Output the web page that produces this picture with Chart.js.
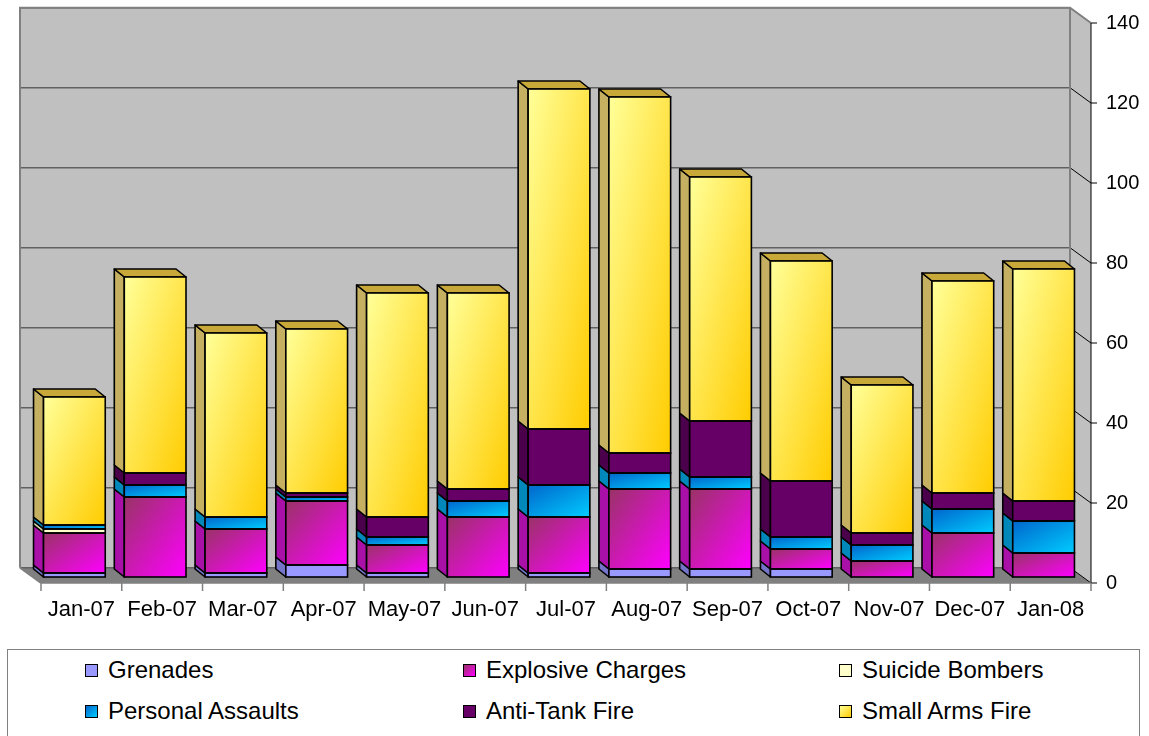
<!DOCTYPE html>
<html>
<head>
<meta charset="utf-8">
<title>Attacks by type</title>
<script src="https://cdn.jsdelivr.net/npm/chart.js@4.4.1/dist/chart.umd.min.js"></script>
<style>
  body { margin: 0; background: #fff; font-family: "Liberation Sans", Arial, sans-serif; }
  #wrap { position: absolute; left: 0; top: 0; width: 1149px; height: 640px; }
  #legend { position: absolute; left: 7px; top: 649px; width: 1133px; height: 92px;
            border: 1px solid #808080; box-sizing: border-box; background: #fff; }
  .swatch { position: absolute; width: 13px; height: 13px; border: 1px solid #000; box-sizing: border-box; }
  .name { position: absolute; font-size: 24px; line-height: 26px; color: #000; white-space: nowrap; }
</style>
</head>
<body>
<div id="wrap"><canvas id="chart"></canvas></div>
<div id="legend"></div>
<script>
// data
const months = ["Jan-07", "Feb-07", "Mar-07", "Apr-07", "May-07", "Jun-07", "Jul-07",
                "Aug-07", "Sep-07", "Oct-07", "Nov-07", "Dec-07", "Jan-08"];
const grenades         = [1, 0, 1, 3, 1, 0, 1, 2, 2, 2, 0, 0, 0];
const explosiveCharges = [10, 20, 11, 16, 7, 15, 14, 20, 20, 5, 4, 11, 6];
const suicideBombers   = [1, 0, 0, 0, 0, 0, 0, 0, 0, 0, 0, 0, 0];
const personalAssaults = [1, 3, 3, 1, 2, 4, 8, 4, 3, 3, 4, 6, 8];
const antiTankFire     = [0, 3, 0, 1, 5, 3, 14, 5, 14, 14, 3, 4, 5];
const smallArmsFire    = [32, 49, 46, 41, 56, 49, 85, 89, 61, 55, 37, 53, 58];
const valueTicks = [0, 20, 40, 60, 80, 100, 120, 140];

// fake 3d offsets (pixels) relative to the bar front plane
const BACK = { dx: -14, dy: -9.3 };
const FRONT = { dx: 7, dy: 6 };
const DEPTH = { dx: -10, dy: -8 };
const BAR_PCT = 0.764;

// front gradient stops, side colour
const looks = [
  { front: ["#9999FF", "#9999FF"], side: "#7474C8" },
  { front: ["#993366", "#FF00FF"], side: "#A810A8" },
  { front: ["#FFFFCC", "#FFFFCC"], side: "#D8D8A8" },
  { front: ["#0066CC", "#00CCFF"], side: "#0088BB" },
  { front: ["#660066", "#660066"], side: "#4A004A" },
  { front: ["#FFFF99", "#FFCC00"], side: "#C4B060", top: "#C8A838" }
];

// diagonal gradient stretched to the box: top-left -> bottom-right
function diagGradient(ctx, x0, y0, w, h, stops) {
  const s = (2 * w * h) / (w * w + h * h || 1);
  const g = ctx.createLinearGradient(x0, y0, x0 + h * s, y0 + w * s);
  g.addColorStop(0, stops[0]);
  g.addColorStop(1, stops[1]);
  return g;
}

function faceFill(di) {
  return function (c) {
    const chart = c.chart;
    const xs = chart.scales.x, ys = chart.scales.y;
    const stops = looks[di].front;
    if (!xs || !ys || c.type !== "data" || !chart.chartArea) return stops[0];
    const i = c.dataIndex;
    let below = 0;
    for (let k = 0; k < di; k++) below += chart.data.datasets[k].data[i];
    const top = ys.getPixelForValue(below + chart.data.datasets[di].data[i]);
    const base = ys.getPixelForValue(below);
    const w = (xs.width / months.length) * BAR_PCT;
    const cx = xs.getPixelForValue(i);
    return diagGradient(chart.ctx, cx - w / 2, top, w, Math.max(base - top, 1), stops);
  };
}

const names = ["Grenades", "Explosive Charges", "Suicide Bombers",
               "Personal Assaults", "Anti-Tank Fire", "Small Arms Fire"];
const values = [grenades, explosiveCharges, suicideBombers, personalAssaults, antiTankFire, smallArmsFire];

const datasets = values.map((v, di) => ({
  label: names[di],
  data: v,
  backgroundColor: faceFill(di),
  borderWidth: 0,
  barPercentage: BAR_PCT,
  categoryPercentage: 1
}));

function barBox(bar) {
  const p = bar.getProps(["x", "y", "base", "width"], true);
  return { x0: p.x - p.width / 2, x1: p.x + p.width / 2, top: p.y, base: p.base };
}

// walls, floor, gridlines, axis lines and the bar side / top faces
const fake3d = {
  id: "fake3d",
  beforeDatasetsDraw(chart) {
    const { ctx, chartArea: a } = chart;
    const ys = chart.scales.y, xs = chart.scales.x;
    const bl = a.left + BACK.dx, br = a.right + BACK.dx;
    const bt = a.top + BACK.dy, bb = a.bottom + BACK.dy;
    const fl = a.left + FRONT.dx, fr = a.right + FRONT.dx;
    const ft = a.top + FRONT.dy, fb = a.bottom + FRONT.dy;
    ctx.save();

    // back wall + right side wall
    ctx.fillStyle = "#C0C0C0";
    ctx.fillRect(bl, bt, br - bl, bb - bt);
    ctx.beginPath();
    ctx.moveTo(br, bt); ctx.lineTo(fr, ft); ctx.lineTo(fr, fb); ctx.lineTo(br, bb);
    ctx.closePath(); ctx.fill();

    // floor
    ctx.fillStyle = "#808080";
    ctx.beginPath();
    ctx.moveTo(bl, bb); ctx.lineTo(br, bb); ctx.lineTo(fr, fb); ctx.lineTo(fl, fb);
    ctx.closePath(); ctx.fill();

    // gridlines on the back wall, then across the side wall to the axis
    valueTicks.forEach(v => {
      const py = ys.getPixelForValue(v);
      ctx.strokeStyle = "#606060";
      ctx.lineWidth = 1.5;
      ctx.beginPath(); ctx.moveTo(bl, py + BACK.dy); ctx.lineTo(br, py + BACK.dy); ctx.stroke();
      ctx.strokeStyle = v === valueTicks[valueTicks.length - 1] ? "#808080" : "#000";
      ctx.lineWidth = 1;
      ctx.beginPath(); ctx.moveTo(br, py + BACK.dy); ctx.lineTo(fr, py + FRONT.dy); ctx.stroke();
      ctx.strokeStyle = "#000";
      ctx.beginPath(); ctx.moveTo(fr, py + FRONT.dy); ctx.lineTo(fr + 6, py + FRONT.dy); ctx.stroke();
    });

    // wall edges
    ctx.strokeStyle = "#808080";
    ctx.lineWidth = 2;
    ctx.beginPath();
    ctx.moveTo(bl, bb); ctx.lineTo(bl, bt); ctx.lineTo(br, bt); ctx.lineTo(fr, ft);
    ctx.moveTo(br, bt); ctx.lineTo(br, bb);
    ctx.moveTo(bl, bb); ctx.lineTo(fl, fb);
    ctx.stroke();

    // value axis line
    ctx.strokeStyle = "#000";
    ctx.lineWidth = 1;
    ctx.beginPath(); ctx.moveTo(fr, ft); ctx.lineTo(fr, fb); ctx.stroke();

    // category ticks along the floor front edge
    const step = xs.width / months.length;
    ctx.strokeStyle = "#808080";
    ctx.lineWidth = 1.5;
    ctx.beginPath();
    for (let k = 0; k <= months.length; k++) {
      const tx = fl + k * step;
      ctx.moveTo(tx, fb); ctx.lineTo(tx, fb + 8);
    }
    ctx.moveTo(fl, fb); ctx.lineTo(fr, fb);
    ctx.stroke();

    // side and top faces of the bars
    ctx.strokeStyle = "#000";
    ctx.lineWidth = 1.6;
    ctx.lineJoin = "round";
    chart.data.datasets.forEach((ds, di) => {
      const meta = chart.getDatasetMeta(di);
      meta.data.forEach((bar, i) => {
        if (!ds.data[i]) return;
        const b = barBox(bar);
        ctx.fillStyle = looks[di].side;
        ctx.beginPath();
        ctx.moveTo(b.x0, b.top); ctx.lineTo(b.x0 + DEPTH.dx, b.top + DEPTH.dy);
        ctx.lineTo(b.x0 + DEPTH.dx, b.base + DEPTH.dy); ctx.lineTo(b.x0, b.base);
        ctx.closePath(); ctx.fill(); ctx.stroke();
        let topmost = true;
        for (let k = di + 1; k < chart.data.datasets.length; k++) {
          if (chart.data.datasets[k].data[i]) topmost = false;
        }
        if (topmost) {
          ctx.fillStyle = looks[di].top || looks[di].side;
          ctx.beginPath();
          ctx.moveTo(b.x0, b.top); ctx.lineTo(b.x1, b.top);
          ctx.lineTo(b.x1 + DEPTH.dx, b.top + DEPTH.dy); ctx.lineTo(b.x0 + DEPTH.dx, b.top + DEPTH.dy);
          ctx.closePath(); ctx.fill(); ctx.stroke();
        }
      });
    });
    ctx.restore();
  },
  // one black outline per front face, shared edges drawn once
  afterDatasetsDraw(chart) {
    const ctx = chart.ctx;
    ctx.save();
    ctx.strokeStyle = "#000";
    ctx.lineWidth = 1.6;
    chart.data.datasets.forEach((ds, di) => {
      chart.getDatasetMeta(di).data.forEach((bar, i) => {
        if (!ds.data[i]) return;
        const b = barBox(bar);
        ctx.strokeRect(b.x0, b.top, b.x1 - b.x0, b.base - b.top);
      });
    });
    ctx.restore();
  }
};

new Chart(document.getElementById("chart"), {
  type: "bar",
  data: { labels: months, datasets: datasets },
  plugins: [fake3d],
  options: {
    responsive: true,
    maintainAspectRatio: false,
    animation: false,
    events: [],
    layout: { padding: { left: 34, top: 17, right: 0, bottom: 0 } },
    plugins: { legend: { display: false }, tooltip: { enabled: false } },
    scales: {
      x: {
        stacked: true,
        grid: { display: false, drawTicks: false },
        border: { display: false },
        ticks: {
          color: "#000",
          font: { family: "Liberation Sans", size: 22 },
          padding: 20,
          labelOffset: FRONT.dx,
          maxRotation: 0,
          autoSkip: false
        },
        afterFit(scale) { scale.height = 63; }
      },
      y: {
        stacked: true,
        position: "right",
        min: 0,
        max: 140,
        grid: { display: false, drawTicks: false },
        border: { display: false },
        ticks: {
          stepSize: 20,
          color: "#000",
          font: { family: "Liberation Sans", size: 20 },
          padding: 22,
          labelOffset: FRONT.dy
        },
        afterFit(scale) {
          scale.width = 65;
          scale.paddingTop = 0;
          scale.paddingBottom = 0;
        }
      }
    }
  }
});

// legend: two rows of three, same order as the series
const legend = document.getElementById("legend");
const colLeft = [77, 455, 831];
const rowTop = [14, 55];
names.forEach((n, k) => {
  const col = k % 3, row = Math.floor(k / 3);
  const sw = document.createElement("div");
  sw.className = "swatch";
  sw.style.left = colLeft[col] + "px";
  sw.style.top = rowTop[row] + "px";
  sw.style.background = "linear-gradient(135deg, " + looks[k].front[0] + ", " + looks[k].front[1] + ")";
  legend.appendChild(sw);
  const tx = document.createElement("div");
  tx.className = "name";
  tx.textContent = n;
  tx.style.left = (colLeft[col] + 23) + "px";
  tx.style.top = (rowTop[row] - 7) + "px";
  legend.appendChild(tx);
});
</script>
</body>
</html>
